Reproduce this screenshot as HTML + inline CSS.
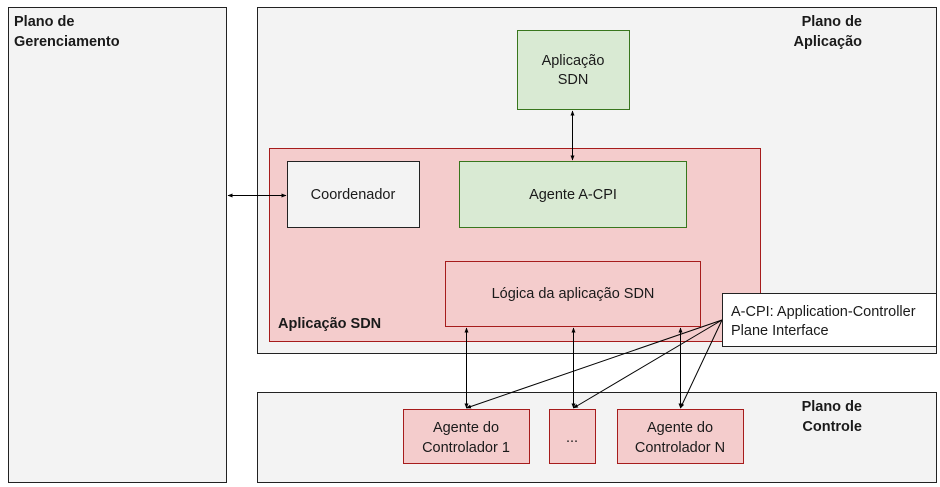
<!DOCTYPE html>
<html><head><meta charset="utf-8"><style>
html,body{margin:0;padding:0;background:#fff;}
svg{display:block;font-family:"Liberation Sans",Arial,sans-serif;}
</style></head><body>
<svg width="940" height="487" viewBox="0 0 940 487" xmlns="http://www.w3.org/2000/svg">
<defs>
<marker id="a" viewBox="0 0 10 10" refX="9" refY="5" markerWidth="5" markerHeight="5" orient="auto-start-reverse"><path d="M0,1 L10,5 L0,9 z" fill="#000"/></marker>
</defs>
<g stroke="#222" stroke-width="1">
<rect x="8.5" y="7.5" width="218" height="475" fill="#f3f3f3"/>
<rect x="257.5" y="7.5" width="679" height="346" fill="#f3f3f3"/>
<rect x="257.5" y="392.5" width="679" height="90" fill="#f3f3f3"/>
</g>
<rect x="517.5" y="30.5" width="112" height="79" fill="#d9ead3" stroke="#38761d"/>
<rect x="269.5" y="148.5" width="491" height="193" fill="#f4cccc" stroke="#a61c1c"/>
<rect x="287.5" y="161.5" width="132" height="66" fill="#f3f3f3" stroke="#222"/>
<rect x="459.5" y="161.5" width="227" height="66" fill="#d9ead3" stroke="#38761d"/>
<rect x="445.5" y="261.5" width="255" height="65" fill="#f4cccc" stroke="#a61c1c"/>
<rect x="403.5" y="409.5" width="126" height="54" fill="#f4cccc" stroke="#a61c1c"/>
<rect x="549.5" y="409.5" width="46" height="54" fill="#f4cccc" stroke="#a61c1c"/>
<rect x="617.5" y="409.5" width="126" height="54" fill="#f4cccc" stroke="#a61c1c"/>
<g stroke="#000" stroke-width="1" fill="none">
<line x1="572.5" y1="111" x2="572.5" y2="160" marker-start="url(#a)" marker-end="url(#a)"/>
<line x1="228" y1="195.5" x2="286" y2="195.5" marker-start="url(#a)" marker-end="url(#a)"/>
<line x1="466.5" y1="328" x2="466.5" y2="408" marker-start="url(#a)" marker-end="url(#a)"/>
<line x1="573.5" y1="328" x2="573.5" y2="408" marker-start="url(#a)" marker-end="url(#a)"/>
<line x1="680.5" y1="328" x2="680.5" y2="408" marker-start="url(#a)" marker-end="url(#a)"/>
<line x1="722" y1="320" x2="466.5" y2="408" marker-end="url(#a)"/>
<line x1="722" y1="320" x2="573.5" y2="408" marker-end="url(#a)"/>
<line x1="722" y1="320" x2="680.5" y2="408" marker-end="url(#a)"/>
</g>
<rect x="722.5" y="293.5" width="214" height="53" fill="#fff" stroke="#222"/>
<g font-size="14.5" fill="#1a1a1a">
<text x="14" y="26" font-weight="bold">Plano de</text>
<text x="14" y="46" font-weight="bold">Gerenciamento</text>
<text x="862" y="26" font-weight="bold" text-anchor="end">Plano de</text>
<text x="862" y="46" font-weight="bold" text-anchor="end">Aplicação</text>
<text x="862" y="411" font-weight="bold" text-anchor="end">Plano de</text>
<text x="862" y="431" font-weight="bold" text-anchor="end">Controle</text>
<text x="278" y="328" font-weight="bold">Aplicação SDN</text>
<text x="573" y="65" text-anchor="middle">Aplicação</text>
<text x="573" y="84" text-anchor="middle">SDN</text>
<text x="353" y="199" text-anchor="middle">Coordenador</text>
<text x="573" y="199" text-anchor="middle">Agente A-CPI</text>
<text x="573" y="298" text-anchor="middle">Lógica da aplicação SDN</text>
<text x="466" y="432" text-anchor="middle">Agente  do</text>
<text x="466" y="452" text-anchor="middle">Controlador 1</text>
<text x="572" y="442" text-anchor="middle">...</text>
<text x="680" y="432" text-anchor="middle">Agente do</text>
<text x="680" y="452" text-anchor="middle">Controlador N</text>
<text x="731" y="316">A-CPI: Application-Controller</text>
<text x="731" y="335">Plane Interface</text>
</g>
</svg>
</body></html>
